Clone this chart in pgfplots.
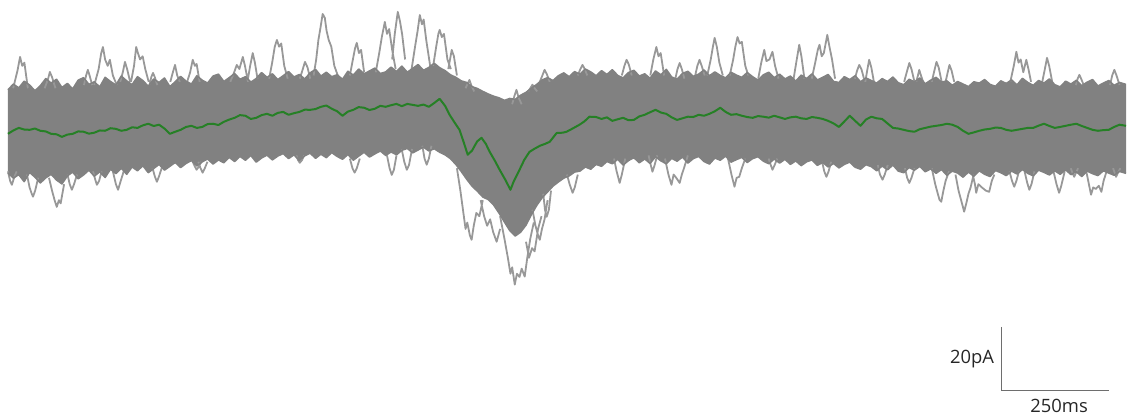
\documentclass[border=0pt]{standalone}
\usepackage{pgfplots}
\pgfplotsset{compat=1.18}
\usepgfplotslibrary{fillbetween}
\usepackage{fontspec}
\setmainfont{Open Sans}
\definecolor{coreg}{RGB}{129,129,129}
\definecolor{outg}{RGB}{152,152,152}
\definecolor{meang}{RGB}{38,128,38}
\definecolor{barg}{RGB}{110,110,110}
\begin{document}
\begin{tikzpicture}
\begin{axis}[hide axis, x=0.216pt, y=1.6pt, xmin=-18.5, xmax=2590, ymin=-89.1, ymax=40.6, clip=false, unbounded coords=jump]
\path (axis cs:-18.5,-89.1) rectangle (axis cs:2590,40.6);
% outlier excursions above the band
\addplot[outg, line width=0.9pt, line join=round, mark=none] coordinates {
(12,13) (22,18.5) (28,22.8) (33,20) (38,21) (46,13) (46,nan)
(85,13) (93,16) (97,18.1) (102,16.5) (110,13) (110,nan)
(176,14) (181,17) (185,18.75) (189,17) (195,14) (195,nan)
(200,14) (210,19) (216,24) (220,25.9) (225,22) (231,20) (236,21.9) (243,17) (252,14) (252,nan)
(260,15) (266,18) (271,21.25) (276,19) (283,15) (283,nan)
(285,15) (292,20) (297,25.9) (301,24) (306,22) (312,23) (318,19) (326,15) (326,nan)
(328,14) (332,16.5) (336,17.8) (340,16.5) (346,14) (346,nan)
(376,15) (382,18) (387,20.3) (392,17) (398,15) (398,nan)
(415,15) (422,18) (428,21.9) (433,20) (437,20.6) (444,15) (444,nan)
(515,15) (524,18) (530,20.3) (536,19) (544,22.8) (549,20) (556,15) (556,nan)
(556,16) (561,20) (567,24) (572,21) (578,16) (578,nan)
(605,16) (612,21) (618,26) (623,28.1) (628,26) (633,27) (640,20) (648,16) (648,nan)
(676,16) (683,19) (688,21.25) (694,19.5) (700,16) (700,nan)
(708,17) (714,22) (719,28) (724,32) (729,36.25) (734,35) (738,31) (743,28.1) (749,26) (756,20) (764,17) (764,nan)
(792,17) (799,22) (804,25.5) (808,27.2) (813,24) (818,25) (825,18) (825,nan)
(852,18) (860,24) (866,29) (873,33.75) (878,30) (883,31.5) (890,25) (898,19) (898,nan)
(890,22) (896,30) (903,36.9) (908,34) (913,30) (920,22) (920,nan)
(935,19) (943,26) (949,31) (954,35.9) (959,33) (963,34.5) (969,28) (978,20) (978,nan)
(985,20) (992,26) (997,30) (1000,31.25) (1005,29) (1010,30) (1018,22) (1026,19) (1026,nan)
(1020,19) (1024,22) (1028,25) (1033,23) (1040,17) (1040,nan)
(1060,13) (1065,14.5) (1069,15.6) (1073,14) (1080,12) (1080,nan)
(1168,8) (1173,10.5) (1178,12.5) (1183,10) (1190,8) (1190,nan)
(1205,12) (1210,13) (1215,14.1) (1220,13) (1226,12) (1226,nan)
(1232,15) (1238,17) (1243,18.75) (1248,17.5) (1255,15) (1255,nan)
(1320,17) (1326,19) (1331,20.3) (1336,19) (1342,17) (1342,nan)
(1422,17) (1428,20) (1433,21.9) (1438,20.5) (1445,17) (1445,nan)
(1488,17) (1495,22) (1502,25.9) (1507,23) (1512,24) (1520,17) (1520,nan)
(1546,16) (1551,19) (1556,20.9) (1561,19) (1567,16) (1567,nan)
(1592,17) (1597,20) (1602,21.9) (1607,20) (1614,17) (1614,nan)
(1620,17) (1628,22) (1633,26) (1637,28.75) (1642,26) (1648,21) (1656,17) (1656,nan)
(1672,17) (1680,22) (1685,26) (1690,29) (1695,27) (1700,27.5) (1708,20) (1715,17) (1715,nan)
(1738,16) (1745,21) (1752,25) (1757,21.5) (1764,22) (1771,24.4) (1777,20) (1785,16) (1785,nan)
(1820,16) (1826,21) (1833,26.6) (1838,23) (1845,16) (1845,nan)
(1862,16) (1870,21) (1876,25) (1880,26.6) (1885,23) (1890,24) (1898,29.7) (1903,26) (1909,22) (1916,16) (1916,nan)
(1962,16) (1967,18.5) (1972,20.3) (1977,19) (1983,16) (1983,nan)
(1986,15) (1991,19) (1995,21.9) (2000,19.5) (2006,15) (2006,nan)
(2076,15) (2082,18) (2088,20.9) (2093,19) (2100,15) (2100,nan)
(2104,15) (2108,17) (2111,18.75) (2115,17) (2120,15) (2120,nan)
(2140,15) (2146,18.5) (2151,21.25) (2156,19.5) (2163,15) (2163,nan)
(2172,15) (2177,18) (2181,20.3) (2186,18.5) (2192,15) (2192,nan)
(2322,15) (2330,20) (2336,24.4) (2341,21) (2346,22) (2352,18) (2359,21.9) (2364,19) (2370,15) (2370,nan)
(2396,15) (2402,19) (2407,22.5) (2412,20) (2419,15) (2419,nan)
(2474,14) (2478,16) (2482,17.2) (2486,16) (2492,14) (2492,nan)
(2553,14) (2558,17) (2563,18.75) (2568,17) (2575,14)
};
% outlier excursions below the band
\addplot[outg, line width=0.9pt, line join=round, mark=none] coordinates {
(0,-13) (5,-16) (9,-17.2) (14,-15) (20,-13) (20,nan)
(44,-14) (50,-18) (55,-20) (58,-20.9) (63,-19) (70,-15) (70,nan)
(95,-15) (102,-19) (108,-22) (113,-24.1) (118,-22) (122,-23) (130,-17) (130,nan)
(138,-14) (143,-17) (148,-18.75) (153,-17) (160,-14) (160,nan)
(197,-13) (202,-15.5) (206,-17.2) (211,-16) (217,-13) (217,nan)
(243,-13) (250,-17) (255,-18.75) (260,-16.5) (268,-13) (268,nan)
(335,-12) (340,-14.5) (345,-16.25) (350,-14.5) (356,-12) (356,nan)
(428,-10) (433,-11.5) (437,-12.5) (442,-11.5) (448,-10) (448,nan)
(441,-10) (446,-12) (451,-13.4) (456,-12) (462,-10) (462,nan)
(668,-8) (672,-9.5) (676,-10.3) (681,-9.5) (686,-8) (686,nan)
(792,-9) (798,-12) (803,-13.4) (808,-12) (815,-9) (815,nan)
(878,-8) (884,-12) (889,-14.1) (894,-12.5) (900,-8) (900,nan)
(912,-6) (918,-10) (924,-12.5) (929,-11) (936,-6) (936,nan)
(960,-5) (965,-9) (970,-10.9) (975,-9) (981,-5) (981,nan)
(1040,-12) (1048,-19) (1055,-26) (1060,-31) (1064,-29) (1070,-33) (1074,-34.4) (1079,-30) (1085,-26) (1092,-27) (1100,-22) (1100,nan)
(1095,-22) (1103,-27) (1110,-30) (1117,-28) (1124,-32) (1132,-35) (1140,-31) (1140,nan)
(1140,-27) (1150,-34) (1158,-40) (1164,-45) (1168,-43) (1174,-48.4) (1179,-45) (1185,-46) (1190,-43.4) (1197,-45.9) (1203,-40) (1210,-34) (1218,-29) (1218,nan)
(1200,-35) (1207,-40) (1214,-37) (1220,-38) (1228,-31) (1236,-27) (1236,nan)
(1215,-25) (1222,-30) (1228,-33) (1232,-34.4) (1237,-31) (1243,-28) (1250,-22) (1250,nan)
(1240,-20) (1244,-25) (1248,-27.2) (1253,-25) (1258,-19) (1258,nan)
(1295,-14) (1301,-17) (1308,-19.7) (1313,-18) (1320,-14) (1320,nan)
(1404,-9) (1410,-13) (1417,-16.6) (1422,-14) (1430,-9) (1430,nan)
(1484,-8) (1489,-11) (1493,-13.1) (1498,-11) (1504,-8) (1504,nan)
(1522,-9) (1530,-14) (1537,-17.2) (1542,-14) (1548,-15) (1556,-16.6) (1561,-14) (1566,-12) (1575,-8) (1575,nan)
(1668,-9) (1676,-14) (1683,-17.8) (1688,-15) (1694,-14.7) (1700,-12) (1708,-9) (1708,nan)
(1762,-9) (1767,-11) (1771,-12.5) (1776,-11) (1782,-9) (1782,nan)
(1886,-10) (1891,-13) (1896,-14.7) (1901,-13) (1907,-10) (1907,nan)
(2015,-11) (2020,-14) (2026,-15.6) (2031,-14) (2038,-11) (2038,nan)
(2078,-12) (2083,-15) (2088,-16.6) (2093,-15) (2100,-12) (2100,nan)
(2140,-12) (2148,-17) (2154,-20) (2158,-21.9) (2162,-22.5) (2167,-19) (2172,-16) (2180,-13) (2180,nan)
(2195,-14) (2202,-19) (2208,-22) (2212,-24) (2215,-25.6) (2220,-23) (2225,-20) (2230,-18) (2237,-14) (2237,nan)
(2235,-14) (2240,-17) (2243,-19.7) (2248,-17) (2256,-18) (2265,-19) (2273,-19.4) (2279,-16) (2285,-14) (2285,nan)
(2320,-13) (2326,-16) (2331,-17.8) (2336,-16) (2342,-13) (2342,nan)
(2355,-13) (2361,-16.5) (2366,-18.75) (2371,-17) (2378,-13) (2378,nan)
(2422,-13) (2429,-17) (2435,-19.7) (2440,-17.5) (2448,-13) (2448,nan)
(2462,-12) (2466,-13.5) (2470,-14.7) (2474,-13.5) (2479,-12) (2479,nan)
(2498,-13) (2504,-17) (2509,-20.3) (2514,-18) (2520,-18.5) (2527,-17.5) (2533,-19.4) (2538,-16) (2545,-13) (2545,nan)
(2560,-12) (2564,-13.5) (2567,-14.7) (2571,-13.5) (2577,-12)
};
% dense band of overlapping sweeps: upper and lower edges
\addplot[name path=up, coreg, line width=0.8pt, line join=round, mark=none] coordinates {
(0,12.5) (12.5,14.3) (25,13.1) (37.5,15.2) (50,14.0) (62.5,12.2) (75,13.8) (87.5,16.0) (100,14.6) (112.5,15.8) (125,13.2) (137.5,14.5) (150,12.8) (162.5,15.5) (175,16.3) (187.5,14.2) (200,15.0) (212.5,13.4) (225,16.4) (237.5,15.1) (250,14.0) (262.5,16.8) (275,15.3) (287.5,14.1) (300,16.6) (312.5,15.4) (325,13.6) (337.5,15.9) (350,14.8) (362.5,16.2) (375,13.5) (387.5,15.0) (400,16.7) (412.5,15.2) (425,14.3) (437.5,16.9) (450,15.5) (462.5,14.6) (475,16.8) (487.5,17.4) (500,15.1) (512.5,16.3) (525,17.6) (537.5,15.8) (550,16.6) (562.5,14.9) (575,16.0) (587.5,17.9) (600,16.4) (612.5,17.5) (625,15.7) (637.5,16.9) (650,18.2) (662.5,16.5) (675,17.3) (687.5,15.9) (700,17.8) (712.5,18.9) (725,16.8) (737.5,18.0) (750,16.6) (762.5,17.2) (775,15.8) (787.5,18.3) (800,17.1) (812.5,19.0) (825,17.5) (837.5,18.4) (850,19.3) (862.5,17.6) (875,18.1) (887.5,19.6) (900,18.2) (912.5,19.9) (925,18.0) (937.5,19.2) (950,20.4) (962.5,18.6) (975,19.5) (987.5,20.8) (1000,19.4) (1012.5,18.5) (1025,17.2) (1037.5,16.4) (1050,15.3) (1062.5,14.8) (1075,13.5) (1087.5,12.9) (1100,12.0) (1112.5,11.2) (1125,10.5) (1137.5,10.0) (1150,9.2) (1162.5,9.8) (1175,9.5) (1187.5,10.8) (1200,11.7) (1212.5,13.0) (1225,14.2) (1237.5,15.6) (1250,16.3) (1262.5,15.4) (1275,16.9) (1287.5,17.8) (1300,16.6) (1312.5,18.2) (1325,17.4) (1337.5,19.0) (1350,18.1) (1362.5,16.9) (1375,18.5) (1387.5,17.3) (1400,18.8) (1412.5,17.0) (1425,16.2) (1437.5,17.9) (1450,18.6) (1462.5,16.8) (1475,17.5) (1487.5,16.1) (1500,18.4) (1512.5,17.2) (1525,18.9) (1537.5,16.5) (1550,15.8) (1562.5,17.6) (1575,18.3) (1587.5,16.7) (1600,17.4) (1612.5,18.7) (1625,16.9) (1637.5,18.1) (1650,17.0) (1662.5,16.2) (1675,18.0) (1687.5,17.1) (1700,16.4) (1712.5,17.9) (1725,16.6) (1737.5,15.5) (1750,17.2) (1762.5,18.0) (1775,16.3) (1787.5,17.4) (1800,15.9) (1812.5,16.8) (1825,15.2) (1837.5,17.1) (1850,16.0) (1862.5,17.5) (1875,15.6) (1887.5,16.4) (1900,17.3) (1912.5,15.1) (1925,14.8) (1937.5,16.6) (1950,15.7) (1962.5,16.9) (1975,15.0) (1987.5,16.2) (2000,15.4) (2012.5,14.6) (2025,16.0) (2037.5,15.1) (2050,16.5) (2062.5,14.7) (2075,14.1) (2087.5,15.8) (2100,15.0) (2112.5,16.2) (2125,14.4) (2137.5,15.5) (2150,16.4) (2162.5,14.9) (2175,15.3) (2187.5,13.9) (2200,15.1) (2212.5,14.3) (2225,13.5) (2237.5,15.0) (2250,14.6) (2262.5,15.7) (2275,14.2) (2287.5,13.6) (2300,15.3) (2312.5,14.5) (2325,15.6) (2337.5,14.0) (2350,16.1) (2362.5,14.8) (2375,13.9) (2387.5,15.4) (2400,14.6) (2412.5,15.9) (2425,14.1) (2437.5,13.4) (2450,15.2) (2462.5,14.3) (2475,15.5) (2487.5,13.8) (2500,14.9) (2512.5,15.7) (2525,13.7) (2537.5,14.6) (2550,15.4) (2562.5,13.9) (2575,14.8) (2590,14.2)
};
\addplot[name path=lo, coreg, line width=0.8pt, line join=round, mark=none] coordinates {
(0,-13.5) (12.5,-15.1) (25,-14.0) (37.5,-16.2) (50,-13.3) (62.5,-14.8) (75,-16.6) (87.5,-15.0) (100,-13.9) (112.5,-15.7) (125,-16.9) (137.5,-14.4) (150,-13.2) (162.5,-15.3) (175,-14.1) (187.5,-12.6) (200,-14.5) (212.5,-13.1) (225,-14.9) (237.5,-12.3) (250,-13.7) (262.5,-12.0) (275,-13.9) (287.5,-11.6) (300,-12.8) (312.5,-11.2) (325,-13.4) (337.5,-12.1) (350,-10.8) (362.5,-12.6) (375,-11.4) (387.5,-10.2) (400,-11.8) (412.5,-10.5) (425,-9.6) (437.5,-11.3) (450,-10.0) (462.5,-9.1) (475,-10.7) (487.5,-9.4) (500,-10.3) (512.5,-8.6) (525,-9.9) (537.5,-8.3) (550,-9.5) (562.5,-8.0) (575,-10.1) (587.5,-8.8) (600,-7.9) (612.5,-9.4) (625,-8.2) (637.5,-7.4) (650,-9.0) (662.5,-7.8) (675,-9.6) (687.5,-8.1) (700,-7.3) (712.5,-8.9) (725,-7.6) (737.5,-8.7) (750,-7.1) (762.5,-8.3) (775,-9.2) (787.5,-7.7) (800,-9.5) (812.5,-8.2) (825,-7.0) (837.5,-8.5) (850,-7.5) (862.5,-6.6) (875,-8.0) (887.5,-6.9) (900,-7.8) (912.5,-6.4) (925,-5.8) (937.5,-7.2) (950,-6.3) (962.5,-5.4) (975,-6.6) (987.5,-5.9) (1000,-7.0) (1012.5,-7.8) (1025,-9.0) (1037.5,-10.8) (1050,-13.0) (1062.5,-15.4) (1075,-17.6) (1087.5,-19.2) (1100,-21.0) (1112.5,-21.8) (1125,-23.5) (1137.5,-26.0) (1150,-28.8) (1162.5,-31.5) (1175,-33.2) (1187.5,-32.0) (1200,-29.8) (1212.5,-26.5) (1225,-23.6) (1237.5,-21.2) (1250,-19.4) (1262.5,-17.6) (1275,-16.3) (1287.5,-15.1) (1300,-14.4) (1312.5,-13.2) (1325,-12.9) (1337.5,-11.6) (1350,-12.3) (1362.5,-10.8) (1375,-11.4) (1387.5,-9.9) (1400,-10.6) (1412.5,-9.2) (1425,-11.0) (1437.5,-9.6) (1450,-8.7) (1462.5,-10.3) (1475,-9.1) (1487.5,-10.5) (1500,-8.4) (1512.5,-9.7) (1525,-10.6) (1537.5,-8.9) (1550,-9.8) (1562.5,-8.5) (1575,-10.4) (1587.5,-9.0) (1600,-8.3) (1612.5,-9.9) (1625,-10.7) (1637.5,-8.8) (1650,-9.5) (1662.5,-8.2) (1675,-10.1) (1687.5,-9.3) (1700,-8.6) (1712.5,-10.2) (1725,-9.0) (1737.5,-8.4) (1750,-9.8) (1762.5,-10.6) (1775,-9.1) (1787.5,-10.4) (1800,-9.2) (1812.5,-10.8) (1825,-9.7) (1837.5,-11.2) (1850,-10.0) (1862.5,-9.4) (1875,-11.1) (1887.5,-10.2) (1900,-11.6) (1912.5,-10.5) (1925,-11.9) (1937.5,-10.8) (1950,-10.1) (1962.5,-11.7) (1975,-12.3) (1987.5,-10.9) (2000,-11.5) (2012.5,-12.8) (2025,-11.3) (2037.5,-12.5) (2050,-11.0) (2062.5,-12.9) (2075,-13.4) (2087.5,-11.8) (2100,-12.6) (2112.5,-11.4) (2125,-13.1) (2137.5,-12.2) (2150,-13.6) (2162.5,-12.4) (2175,-14.2) (2187.5,-12.9) (2200,-13.5) (2212.5,-14.8) (2225,-13.2) (2237.5,-14.5) (2250,-12.8) (2262.5,-13.9) (2275,-14.6) (2287.5,-12.7) (2300,-13.4) (2312.5,-14.3) (2325,-12.9) (2337.5,-13.8) (2350,-12.4) (2362.5,-13.6) (2375,-14.4) (2387.5,-12.6) (2400,-13.3) (2412.5,-14.1) (2425,-12.8) (2437.5,-13.9) (2450,-12.5) (2462.5,-14.0) (2475,-13.1) (2487.5,-14.6) (2500,-12.9) (2512.5,-13.7) (2525,-14.3) (2537.5,-12.8) (2550,-13.5) (2562.5,-14.2) (2575,-13.0) (2590,-13.6)
};
\addplot[coreg] fill between[of=up and lo];
% mean trace
\addplot[meang, line width=1pt, line join=round, mark=none] coordinates {
(0,-1.25) (12.5,-0.2) (25,0.6) (37.5,0.1) (50,0) (62.5,0.4) (75,-0.3) (87.5,-0.5) (100,-1.25) (112.5,-1.4) (125,-2.2) (137.5,-1.5) (150,-1.25) (162.5,-0.5) (175,-0.6) (187.5,-1.2) (200,-0.9) (212.5,-0.2) (225,-0.3) (237.5,0.5) (250,0.3) (262.5,-0.3) (275,0) (287.5,0.8) (300,0.6) (312.5,1.4) (325,1.9) (337.5,1.2) (350,1.6) (362.5,0.4) (375,-1.25) (387.5,-0.6) (400,0) (412.5,0.9) (425,1.25) (437.5,0.6) (450,0.9) (462.5,1.8) (475,1.9) (487.5,1.5) (500,2.5) (512.5,3.2) (525,3.75) (537.5,4.6) (550,4.4) (562.5,3.4) (575,3.75) (587.5,4.6) (600,5) (612.5,4.4) (625,5.3) (637.5,5.6) (650,4.7) (662.5,5.2) (675,5.6) (687.5,6.3) (700,6.25) (712.5,6.5) (725,7.2) (737.5,7.6) (750,6.6) (762.5,5.8) (775,4.4) (787.5,5.7) (800,6.25) (812.5,7.1) (825,6.9) (837.5,6.2) (850,6.6) (862.5,7.5) (875,7.2) (887.5,7.7) (900,8.1) (912.5,7.4) (925,8.1) (937.5,7.8) (950,7.5) (962.5,7.9) (975,7.2) (987.5,8.4) (1000,9.7) (1012.5,7.5) (1023,4.7) (1035,2.2) (1046,0) (1056,-4.0) (1065,-7.8) (1075,-6.5) (1087,-3.6) (1097,-2.5) (1107,-4.4) (1116,-6.9) (1128,-9.7) (1139,-12.5) (1152,-15.6) (1164,-18.75) (1172,-16.0) (1185,-12.5) (1196,-9.4) (1208,-6.9) (1220,-5.9) (1232,-5.0) (1244,-4.4) (1255,-3.75) (1271,-1.0) (1285,-0.9) (1294,-0.6) (1308,0.4) (1324,1.6) (1335,2.6) (1347,4.1) (1362.5,4.0) (1375,3.4) (1387.5,3.9) (1400,2.8) (1412.5,3.3) (1425,3.75) (1437.5,3.0) (1450,3.1) (1462.5,4.2) (1475,4.7) (1487.5,5.5) (1500,6.25) (1512.5,5.4) (1525,5) (1537.5,3.9) (1550,3.1) (1562.5,3.6) (1575,4.1) (1587.5,4.0) (1600,4.7) (1612.5,4.4) (1625,5) (1637.5,5.8) (1650,6.9) (1662.5,5.6) (1675,4.7) (1687.5,4.9) (1700,4.4) (1712.5,4.0) (1725,3.75) (1737.5,4.3) (1750,4.1) (1762.5,3.8) (1775,4.4) (1787.5,3.9) (1800,3.4) (1812.5,3.9) (1825,4.1) (1837.5,3.6) (1850,3.4) (1862.5,4.0) (1875,3.75) (1887.5,3.4) (1900,2.8) (1912.5,2.0) (1925,0.9) (1937.5,2.6) (1950,4.4) (1962.5,2.8) (1975,1.25) (1987.5,3.2) (2000,4.1) (2012.5,3.6) (2025,3.4) (2037.5,2.0) (2050,0.6) (2062.5,0.4) (2075,0) (2087.5,-0.4) (2100,-0.6) (2112.5,0.2) (2125,0.6) (2137.5,1.0) (2150,1.25) (2162.5,1.5) (2175,1.9) (2187.5,1.6) (2200,0.9) (2212.5,-0.3) (2225,-1.25) (2237.5,-0.8) (2250,-0.3) (2262.5,0.1) (2275,0.3) (2287.5,0.7) (2300,0.6) (2312.5,0.0) (2325,-0.3) (2337.5,0.0) (2350,0.3) (2362.5,0.6) (2375,0.6) (2387.5,1.3) (2400,1.9) (2412.5,1.2) (2425,0.6) (2437.5,0.9) (2450,1.25) (2462.5,1.6) (2475,1.9) (2487.5,1.2) (2500,0.6) (2512.5,0.0) (2525,-0.3) (2537.5,-0.1) (2550,0) (2562.5,0.9) (2575,1.6) (2590,1.25)
};
% scale bar: 20 pA, 250 ms
\addplot[barg, line width=0.6pt, mark=none] coordinates {(2301,-61.6) (2301,-81.6) (2551,-81.6)};
\node[anchor=east, font=\fontsize{9.2}{11}\selectfont, text=black!85, inner sep=1pt] at (axis cs:2290,-71.6) {20pA};
\node[anchor=center, font=\fontsize{9.2}{11}\selectfont, text=black!85, inner sep=1pt] at (axis cs:2435,-86.4) {250ms};
\end{axis}
\end{tikzpicture}
\end{document}
